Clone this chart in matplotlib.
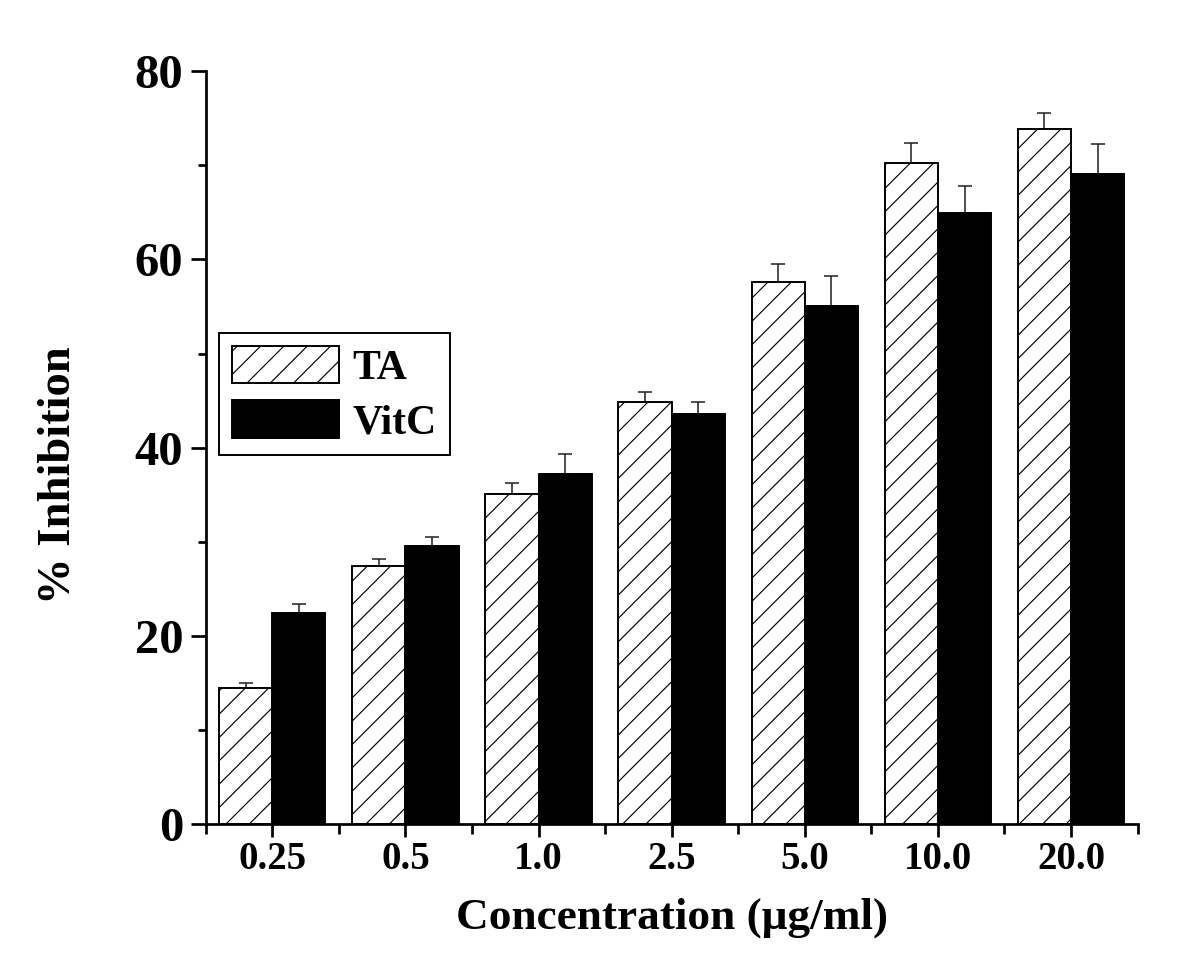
"""
Balkendiagramm: % Inhibition von TA und VitC bei verschiedenen Konzentrationen
"""

import numpy as np
import matplotlib
matplotlib.use('Agg')
import matplotlib.pyplot as plt
from matplotlib.ticker import MultipleLocator, FixedLocator

# Daten
konzentrationen = ['0.25', '0.5', '1.0', '2.5', '5.0', '10.0', '20.0']
ta_werte = [14.5, 27.4, 35.1, 44.8, 57.6, 70.3, 73.9]
ta_fehler = [0.5, 0.8, 1.1, 1.1, 1.9, 2.1, 1.7]
vitc_werte = [22.4, 29.6, 37.2, 43.6, 55.1, 64.9, 69.1]
vitc_fehler = [1.0, 0.9, 2.1, 1.2, 3.1, 2.9, 3.2]

plt.rcParams['font.family'] = ['Liberation Serif', 'DejaVu Serif']
plt.rcParams['font.weight'] = 'bold'
plt.rcParams['hatch.linewidth'] = 0.6

DPI = 140
fig = plt.figure(figsize=(1200 / DPI, 970 / DPI), dpi=DPI)
ax = fig.add_axes([0.1714, 0.1505, 0.7766, 0.776])

x = np.arange(1, len(konzentrationen) + 1)
breite = 0.4

ax.bar(x - breite / 2, ta_werte, breite, color='white', edgecolor='black',
       linewidth=1.0, hatch='//', label='TA', zorder=2)
ax.bar(x + breite / 2, vitc_werte, breite, color='black', edgecolor='black',
       linewidth=1.0, label='VitC', zorder=2)

# Fehlerbalken nur nach oben
ax.errorbar(x - breite / 2, ta_werte, yerr=[np.zeros(len(x)), ta_fehler],
            fmt='none', ecolor='#222222', elinewidth=0.8, capsize=3.6,
            capthick=0.8, zorder=1)
ax.errorbar(x + breite / 2, vitc_werte, yerr=[np.zeros(len(x)), vitc_fehler],
            fmt='none', ecolor='#222222', elinewidth=0.8, capsize=3.6,
            capthick=0.8, zorder=1)

ax.set_xlim(0.5, 7.5)
ax.set_ylim(0, 80)

ax.spines['top'].set_visible(False)
ax.spines['right'].set_visible(False)
ax.spines['left'].set_linewidth(1.4)
ax.spines['bottom'].set_linewidth(1.4)

ax.set_xticks(x)
ax.set_xticklabels(konzentrationen)
ax.xaxis.set_minor_locator(FixedLocator(np.arange(0.5, 8.0, 1.0)))
ax.yaxis.set_major_locator(MultipleLocator(20))
ax.yaxis.set_minor_locator(MultipleLocator(10))

ax.tick_params(axis='y', which='major', direction='out', length=7.5, width=1.4,
               labelsize=25, pad=4)
ax.tick_params(axis='y', which='minor', direction='out', length=4, width=1.4)
ax.tick_params(axis='x', which='major', direction='out', length=6.5, width=1.4,
               labelsize=20, pad=2)
ax.tick_params(axis='x', which='minor', direction='out', length=5, width=1.4)

ax.set_xlabel('Concentration (\u03bcg/ml)', fontsize=23.3, fontweight='bold')
ax.set_ylabel('% Inhibition', fontsize=24, fontweight='bold')
ax.xaxis.set_label_coords(0.5, -0.097)
ax.yaxis.set_label_coords(-0.135, 0.464)

leg = ax.legend(loc='upper left', bbox_to_anchor=(0.0143, 0.652),
                borderaxespad=0, fontsize=21.5, fancybox=False,
                edgecolor='black', framealpha=1, handlelength=2.57,
                handleheight=1.0, labelspacing=0.3, borderpad=0.3,
                handletextpad=0.33)
leg.get_frame().set_linewidth(1.0)
for t in leg.get_texts():
    t.set_fontweight('bold')

fig.savefig('out.png', dpi=DPI)
